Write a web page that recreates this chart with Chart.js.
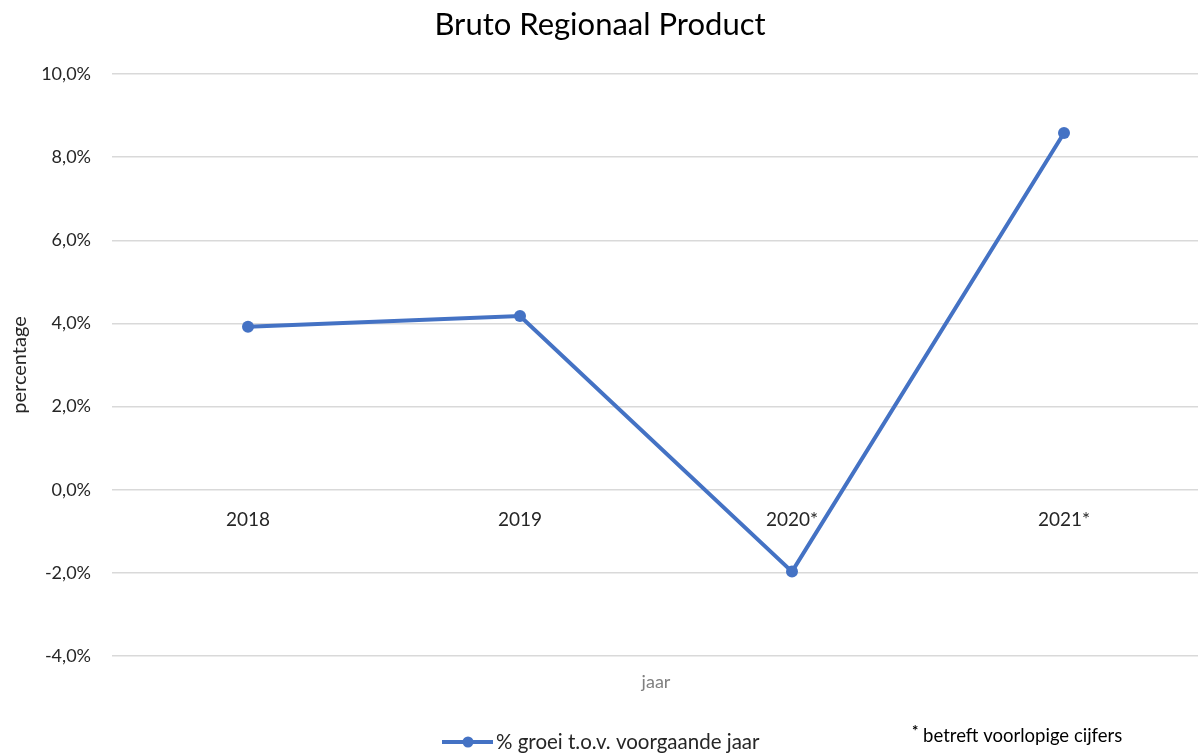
<!DOCTYPE html>
<html>
<head>
<meta charset="utf-8">
<script src="https://cdn.jsdelivr.net/npm/chart.js@4/dist/chart.umd.min.js"></script>
<style>
  html, body { margin: 0; padding: 0; background: #fff; overflow: hidden; }
  #wrap { position: relative; width: 1206px; height: 755px; }
</style>
</head>
<body>
<div id="wrap"><canvas id="c"></canvas></div>
<script>
const chartTitle = 'Bruto Regionaal Product';
const categories = ['2018', '2019', '2020*', '2021*'];
const seriesName = '% groei t.o.v. voorgaande jaar';
const growth = [3.92, 4.18, -1.97, 8.58];
const yTickValues = [-4, -2, 0, 2, 4, 6, 8, 10];
const xAxisTitle = 'jaar';
const yAxisTitle = 'percentage';
const footNote = '* betreft voorlopige cijfers';

const FONT = 'Lato, Carlito, "Open Sans", sans-serif';
const LINE_COLOR = '#4472C4';
const TEXT_COLOR = '#262626';

const decorPlugin = {
  id: 'decor',
  afterDraw(chart) {
    const ctx = chart.ctx;
    const area = chart.chartArea;
    ctx.save();
    // title
    ctx.fillStyle = '#000';
    ctx.font = '31px ' + FONT;
    ctx.textAlign = 'center';
    ctx.textBaseline = 'middle';
    ctx.fillText(chartTitle, 600, 25);
    // x axis title
    ctx.fillStyle = '#808080';
    ctx.font = '18px ' + FONT;
    ctx.fillText(xAxisTitle, (area.left + area.right) / 2, 682);
    // legend
    const ly = 742;
    ctx.strokeStyle = LINE_COLOR;
    ctx.lineWidth = 4;
    ctx.beginPath();
    ctx.moveTo(442, ly);
    ctx.lineTo(493, ly);
    ctx.stroke();
    ctx.fillStyle = LINE_COLOR;
    ctx.beginPath();
    ctx.arc(468, ly, 5.5, 0, Math.PI * 2);
    ctx.fill();
    ctx.fillStyle = TEXT_COLOR;
    ctx.font = '20.5px ' + FONT;
    ctx.textAlign = 'left';
    ctx.fillText(seriesName, 496, ly);
    // foot note (asterisk raised)
    ctx.fillStyle = '#000';
    ctx.font = 'bold 15px ' + FONT;
    const star = footNote.charAt(0);
    ctx.fillText(star, 912, 731);
    const starW = ctx.measureText(star).width;
    ctx.font = '18.5px ' + FONT;
    ctx.fillText(footNote.slice(1), 912 + starW, 736);
    ctx.restore();
  }
};

function build() {
  new Chart(document.getElementById('c'), {
    type: 'line',
    data: {
      labels: categories,
      datasets: [{
        label: seriesName,
        data: growth,
        borderColor: LINE_COLOR,
        backgroundColor: LINE_COLOR,
        borderWidth: 4,
        pointRadius: 6,
        pointHoverRadius: 6,
        pointBorderWidth: 0,
        tension: 0
      }]
    },
    options: {
      responsive: true,
      maintainAspectRatio: false,
      animation: false,
      layout: { padding: { top: 74, bottom: 99, left: 0, right: 2 } },
      plugins: {
        legend: { display: false },
        title: { display: false },
        tooltip: { enabled: false }
      },
      scales: {
        x: {
          type: 'category',
          position: { y: 0 },
          offset: true,
          grid: { display: false },
          border: { display: false },
          ticks: {
            color: TEXT_COLOR,
            font: { family: FONT, size: 19 },
            padding: 11,
            maxRotation: 0
          }
        },
        y: {
          min: yTickValues[0],
          max: yTickValues[yTickValues.length - 1],
          afterBuildTicks(scale) {
            scale.ticks = yTickValues.map(v => ({ value: v }));
          },
          afterFit(scale) { scale.width = 112; },
          grid: { color: '#d9d9d9', lineWidth: 1.5, drawTicks: false },
          border: { display: false },
          ticks: {
            color: TEXT_COLOR,
            font: { family: FONT, size: 18 },
            padding: 21,
            callback: v => v.toFixed(1).replace('.', ',') + '%'
          },
          title: {
            display: true,
            text: yAxisTitle,
            color: TEXT_COLOR,
            font: { family: FONT, size: 20 },
            padding: { top: 8, bottom: 0 }
          }
        }
      }
    },
    plugins: [decorPlugin]
  });
}

if (document.fonts && document.fonts.load) {
  Promise.all([document.fonts.load('18px Lato'), document.fonts.load('31px Lato')])
    .then(build, build);
} else {
  build();
}
</script>
</body>
</html>
